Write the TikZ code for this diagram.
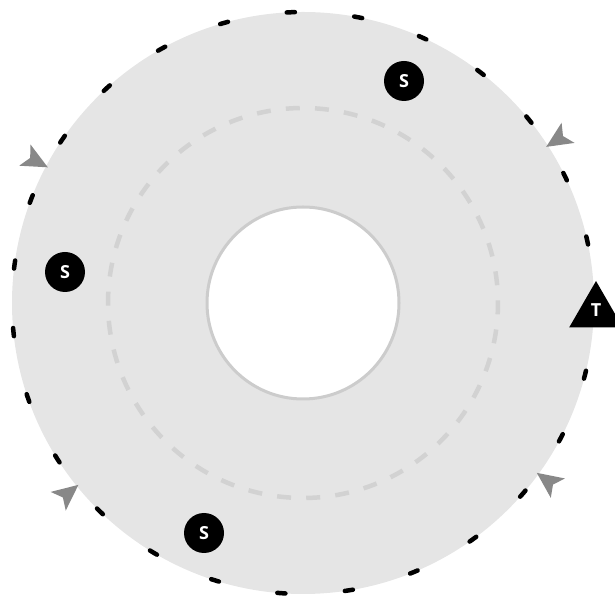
\documentclass[tikz,border=0pt]{standalone}
\usepackage{fontspec}
\setmainfont{Open Sans}
\usetikzlibrary{shapes.geometric}
\definecolor{ringfill}{HTML}{E5E5E5}
\definecolor{holeline}{HTML}{CCCCCC}
\definecolor{midline}{HTML}{D2D2D2}
\definecolor{arrowgray}{HTML}{888888}
\begin{document}
\begin{tikzpicture}[x=1pt,y=1pt,
  snode/.style={circle, fill=black, minimum size=40pt, inner sep=0pt, text=white,
    font=\fontsize{18}{18}\selectfont\bfseries},
  tnode/.style={regular polygon, regular polygon sides=3, fill=black, minimum size=62pt,
    inner sep=0pt, text=white, font=\fontsize{18}{18}\selectfont\bfseries},
  outerdash/.style={line width=4.5pt, black, line cap=round},
  middash/.style={line width=4.5pt, midline},
  pointer/.style={fill=arrowgray}
]
\useasboundingbox (0,0) rectangle (615,599);
\clip (0,0) rectangle (615,599);
\coordinate (c) at (303,296);
% ring
\fill[ringfill, even odd rule] (c) circle (291) (c) circle (96);
\draw[holeline, line width=3pt] (c) circle (96);
% dashed middle circle
\foreach \k in {0,...,41}{
  \pgfmathsetmacro\sa{93+8.5714*\k-2.05}
  \pgfmathsetmacro\ea{\sa+4.1}
  \draw[middash] (c) ++(\sa:195) arc[start angle=\sa, end angle=\ea, radius=195];
}
% outer dashes
\foreach \k in {0,...,26}{
  \pgfmathsetmacro\sa{-0.93+13.3333*\k-0.8}
  \pgfmathsetmacro\ea{\sa+1.6}
  \draw[outerdash] (c) ++(\sa:291) arc[start angle=\sa, end angle=\ea, radius=291];
}
% inward pointers
\foreach \a in {32.7,152,219,-36}{
  \fill[pointer, shift={(c)}, rotate=\a] (289,0) -- (315,12) -- (309,0) -- (315,-12) -- cycle;
}
% nodes
\node[snode] (s1) at (404,518) {S};
\node[snode] (s2) at (65,327) {S};
\node[snode] (s3) at (204,66) {S};
\node[tnode] (t) at (596,287) {\raisebox{3pt}{T}};
\end{tikzpicture}
\end{document}
